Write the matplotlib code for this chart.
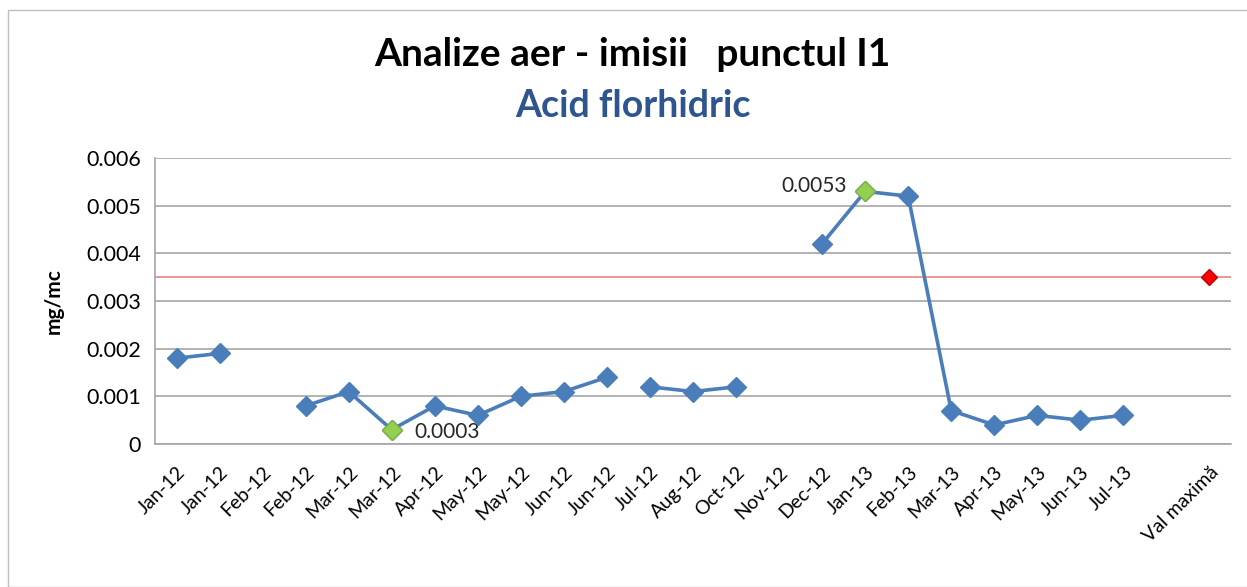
import numpy as np
import matplotlib
matplotlib.use('Agg')
import matplotlib.pyplot as plt
from matplotlib.patches import Rectangle

plt.rcParams['font.family'] = ['Lato', 'DejaVu Sans']

# date
categorii = ['Jan-12', 'Jan-12', 'Feb-12', 'Feb-12', 'Mar-12', 'Mar-12', 'Apr-12',
             'May-12', 'May-12', 'Jun-12', 'Jun-12', 'Jul-12', 'Aug-12', 'Oct-12',
             'Nov-12', 'Dec-12', 'Jan-13', 'Feb-13', 'Mar-13', 'Apr-13', 'May-13',
             'Jun-13', 'Jul-13', '', 'Val maximă']
valori = [0.0018, 0.0019, np.nan, 0.0008, 0.0011, 0.0003, 0.0008, 0.0006, 0.0010,
          0.0011, 0.0014, 0.0012, 0.0011, 0.0012, np.nan, 0.0042, 0.0053, 0.0052,
          0.0007, 0.0004, 0.0006, 0.0005, 0.0006, np.nan, np.nan]
# linia se intrerupe intre Jun-12 (al doilea) si Jul-12
rupturi = [11]
idx_min = 5
idx_max = 16
val_maxima = 0.0035
idx_val_maxima = 24

W, H = 1247, 587
fig = plt.figure(figsize=(W / 100, H / 100), dpi=100)

# chenarul graficului (ca in Excel)
fig.patches.append(Rectangle((8 / W, 0), 1, 1 - 10 / H, transform=fig.transFigure,
                             fill=False, edgecolor='#bfbfbf', linewidth=1))

ax = fig.add_axes([155 / W, 1 - 444 / H, (1231 - 155) / W, (444 - 158) / H])

x = np.arange(len(categorii))
y = np.array(valori)

# linia rupta in segmente
limite = [0] + rupturi + [len(x)]
for a, b in zip(limite[:-1], limite[1:]):
    ax.plot(x[a:b], y[a:b], color='#4a7ebb', linewidth=2.6, zorder=3)
ax.plot(x, y, linestyle='none', marker='D', markersize=10.5, color='#4a7ebb', zorder=4)

# punctele extreme
for i in (idx_min, idx_max):
    ax.plot(x[i], y[i], linestyle='none', marker='D', markersize=10.5,
            markerfacecolor='#92d050', markeredgecolor='#7fb23f', zorder=5)
ax.annotate(f'{y[idx_min]:.4f}', (x[idx_min], y[idx_min]), xytext=(16, -2),
            textcoords='offset points', fontsize=15, color='#262626', va='center')
ax.annotate(f'{y[idx_max]:.4f}', (x[idx_max], y[idx_max]), xytext=(-13, 4),
            textcoords='offset points', fontsize=15, color='#262626',
            ha='right', va='center')

# valoarea maxima admisa
ax.axhline(val_maxima, color='#e8918e', linewidth=1.3, zorder=2)
ax.plot(x[idx_val_maxima], val_maxima, linestyle='none', marker='D', markersize=8,
        color='#ff0000', markeredgecolor='#c00000', zorder=5)

ax.set_xlim(-0.5, len(categorii) - 0.5)
ax.set_ylim(0, 0.006)
ax.set_yticks(np.arange(0, 0.0061, 0.001))
ax.set_yticklabels(['0', '0.001', '0.002', '0.003', '0.004', '0.005', '0.006'])
ax.set_xticks(x)
ax.set_xticklabels(categorii, rotation=45, ha='right', rotation_mode='anchor')
ax.tick_params(axis='x', length=0, labelsize=14, pad=14)
ax.tick_params(axis='y', length=0, labelsize=15.5, pad=10)
ax.grid(axis='y', color='#a6a6a6', linewidth=1.2)
ax.set_axisbelow(True)
for s in ['top', 'right']:
    ax.spines[s].set_visible(False)
ax.spines['left'].set_color('#a6a6a6')
ax.spines['bottom'].set_color('#a6a6a6')
ax.spines['left'].set_linewidth(1.2)
ax.spines['bottom'].set_linewidth(1.2)

ax.set_ylabel('mg/mc', fontsize=15, fontweight='bold', labelpad=16)

fig.text(632 / W, 1 - 55 / H, 'Analize aer - imisii   punctul I1', ha='center',
         va='center', fontsize=28, fontweight='bold', color='black')
fig.text(633 / W, 1 - 106 / H, 'Acid florhidric', ha='center', va='center',
         fontsize=27, fontweight='bold', color='#2e5590')

fig.savefig('out.png', dpi=100)
